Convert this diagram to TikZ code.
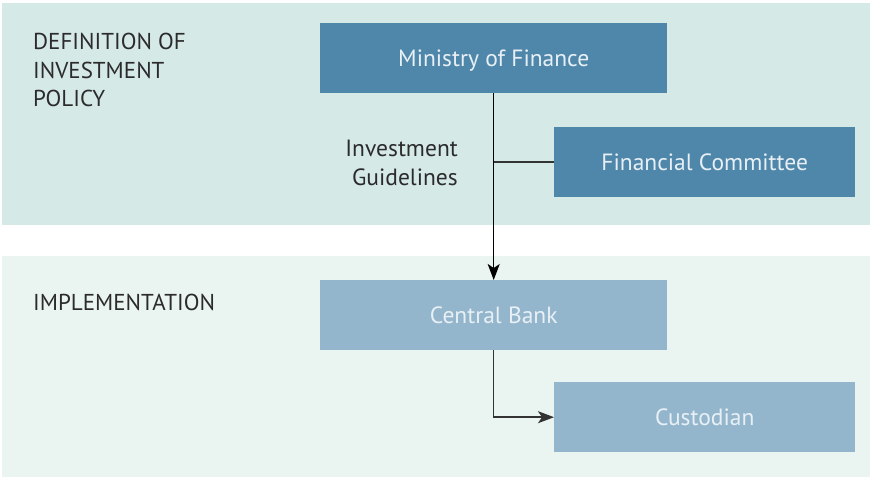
\documentclass[tikz,border=0pt]{standalone}
\usepackage{fontspec}
\setmainfont{PT Sans}
\usepackage{xcolor}
\usetikzlibrary{arrows.meta, positioning}
\definecolor{bandtop}{HTML}{D5E9E7}
\definecolor{bandbottom}{HTML}{EAF4F1}
\definecolor{boxdark}{HTML}{4F87AB}
\definecolor{boxlight}{HTML}{94B6CD}
\definecolor{boxtext}{HTML}{E8F0F5}
\definecolor{labeltext}{HTML}{2B2B2B}

\begin{document}
\begin{tikzpicture}[
  x=1pt, y=-1pt,
  orgbox/.style={rectangle, fill=#1, text=boxtext, inner sep=0pt, minimum height=70pt, text height=16.5pt, text depth=0pt, font=\fontsize{23.5}{28}\selectfont},
  bandlabel/.style={anchor=north west, align=left, inner sep=0pt, text=labeltext, font=\fontsize{23}{28.5}\selectfont},
  flowline/.style={line width=1.5pt, black!80},
  flowarrow/.style={flowline, -{Stealth[length=16pt, width=12pt, inset=4pt]}}
]
  \useasboundingbox (0,0) rectangle (870,477);

  % Bands
  \fill[bandtop] (2,3) rectangle (870,225);
  \fill[bandbottom] (2,256) rectangle (870,477);

  % Band labels
  \node[bandlabel] (deflabel) at (33,33) {DEFINITION OF\\INVESTMENT\\POLICY};
  \node[bandlabel] (implabel) at (33,294) {IMPLEMENTATION};

  % Institutions
  \node[orgbox=boxdark, minimum width=347pt, anchor=north west] (ministry) at (320,23) {Ministry of Finance};
  \node[orgbox=boxdark, minimum width=301pt, anchor=north west] (committee) at (554,127) {Financial Committee};
  \node[orgbox=boxlight, minimum width=347pt, anchor=north west] (bank) at (320,280) {Central Bank};
  \node[orgbox=boxlight, minimum width=301pt, anchor=north west] (custodian) at (554,382) {Custodian};

  % Guidelines label
  \node[anchor=east, align=right, inner sep=0pt, text=labeltext, font=\fontsize{23.5}{29}\selectfont] (guide) at (458,162.5) {Investment\\Guidelines};

  % Connectors
  \draw[flowarrow, black] (ministry) -- (bank);
  \draw[flowline] (committee.west) -- (ministry.south |- committee.west);
  \draw[flowarrow] (bank.south) |- (custodian.west);
\end{tikzpicture}
\end{document}
